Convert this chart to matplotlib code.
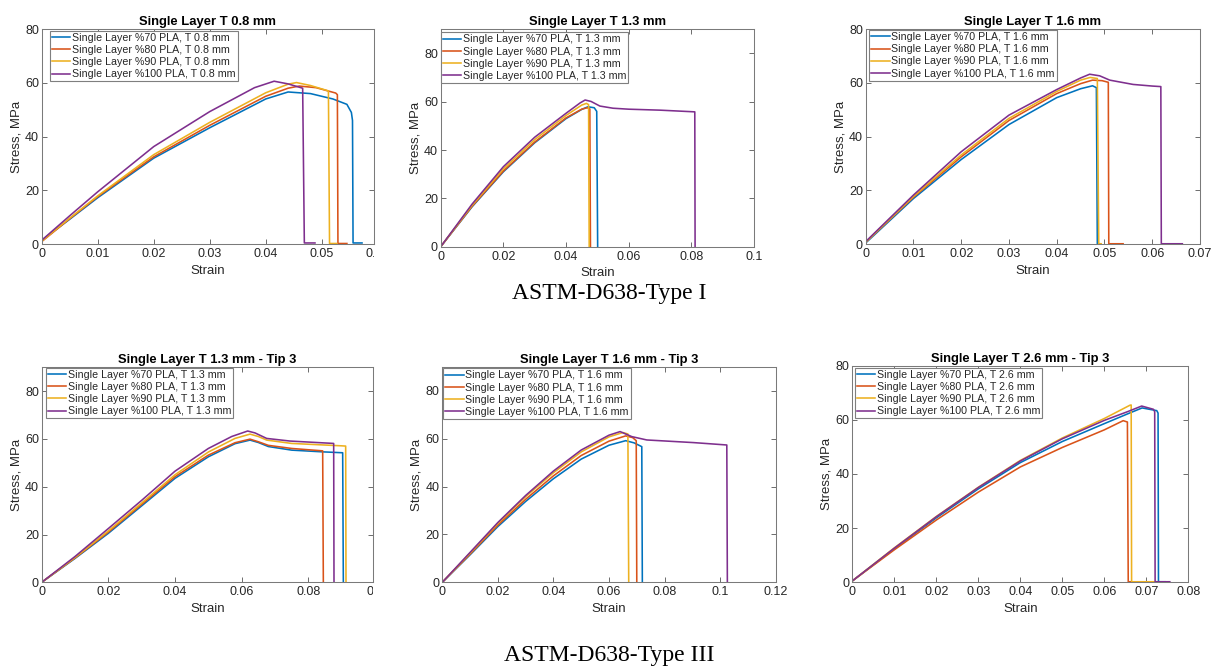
import matplotlib
matplotlib.use('Agg')
import matplotlib.pyplot as plt
from matplotlib.transforms import Bbox, blended_transform_factory, ScaledTranslation

W, H = 1218, 669
plt.rcParams['font.family'] = ['Liberation Sans', 'DejaVu Sans']

COLORS = ['#0072BD', '#D95319', '#EDB120', '#7E2F8E']
INFILL = ['70', '80', '90', '100']

# --- Type I, T 0.8 mm
T08_70_x = [0, 0.005, 0.01, 0.02, 0.03, 0.04, 0.044, 0.048, 0.052, 0.0545, 0.0553, 0.0555, 0.0556, 0.0572]
T08_70_y = [1.5, 9.3, 17.3, 32.0, 43.3, 54.0, 56.6, 56.0, 54.0, 52.0, 49.0, 46.0, 0.5, 0.5]
T08_80_x = [0, 0.005, 0.01, 0.02, 0.03, 0.04, 0.044, 0.046, 0.049, 0.0525, 0.0528, 0.0529, 0.0545]
T08_80_y = [1.0, 9.5, 17.7, 32.5, 44.2, 55.0, 58.0, 58.8, 58.2, 56.2, 55.6, 0.3, 0.3]
T08_90_x = [0, 0.005, 0.01, 0.02, 0.03, 0.04, 0.044, 0.0455, 0.048, 0.0512, 0.0514, 0.0527]
T08_90_y = [1.2, 9.7, 18.0, 33.3, 45.3, 56.3, 59.5, 60.1, 59.0, 57.0, 0.3, 0.3]
T08_100_x = [0, 0.005, 0.01, 0.02, 0.03, 0.038, 0.0415, 0.044, 0.0466, 0.0469, 0.0488]
T08_100_y = [1.5, 10.6, 19.5, 36.3, 49.3, 58.2, 60.6, 59.6, 58.0, 0.5, 0.5]

# --- Type I, T 1.3 mm
T13_70_x = [0, 0.01, 0.02, 0.03, 0.04, 0.045, 0.047, 0.049, 0.0498, 0.0501]
T13_70_y = [0, 16.5, 31.0, 43.0, 53.0, 56.8, 57.9, 57.5, 56.0, 0]
T13_80_x = [0, 0.01, 0.02, 0.03, 0.04, 0.045, 0.0468, 0.0476, 0.0478]
T13_80_y = [0, 16.7, 31.3, 43.3, 53.3, 56.9, 57.5, 57.0, 0]
T13_90_x = [0, 0.01, 0.02, 0.03, 0.04, 0.045, 0.0465, 0.0472, 0.0474]
T13_90_y = [0, 17.1, 32.2, 44.3, 54.3, 58.6, 59.3, 58.8, 0]
T13_100_x = [0, 0.01, 0.02, 0.03, 0.04, 0.0445, 0.0461, 0.048, 0.0508, 0.055, 0.06, 0.07, 0.0811, 0.0812]
T13_100_y = [0, 17.6, 33.1, 45.3, 55.2, 59.5, 60.7, 60.1, 58.2, 57.3, 56.9, 56.5, 55.8, 0]

# --- Type I, T 1.6 mm
T16_70_x = [0, 0.01, 0.02, 0.03, 0.04, 0.045, 0.0475, 0.0483, 0.0485, 0.049]
T16_70_y = [0.5, 17.0, 31.5, 44.5, 54.5, 57.8, 58.9, 58.2, 0.2, 0.2]
T16_80_x = [0, 0.01, 0.02, 0.03, 0.04, 0.045, 0.0475, 0.0495, 0.0508, 0.0509, 0.0539]
T16_80_y = [0.8, 17.5, 32.5, 46.0, 56.0, 59.7, 61.0, 60.8, 60.2, 0.2, 0.2]
T16_90_x = [0, 0.01, 0.02, 0.03, 0.04, 0.045, 0.047, 0.0485, 0.0488, 0.0493]
T16_90_y = [0.8, 17.8, 33.2, 46.8, 56.8, 61.0, 62.0, 61.6, 0.2, 0.2]
T16_100_x = [0, 0.01, 0.02, 0.03, 0.04, 0.045, 0.0469, 0.049, 0.0511, 0.056, 0.06, 0.0618, 0.0619, 0.0663]
T16_100_y = [1.0, 18.3, 34.4, 48.0, 57.5, 61.8, 63.2, 62.6, 61.0, 59.4, 58.8, 58.6, 0.2, 0.2]

# --- Type III, T 1.3 mm
T13T_70_x = [0, 0.01, 0.02, 0.03, 0.04, 0.05, 0.058, 0.0625, 0.065, 0.068, 0.075, 0.084, 0.0903, 0.0905]
T13T_70_y = [0, 10.0, 20.5, 32.0, 43.5, 52.5, 58.0, 59.5, 58.5, 56.8, 55.3, 54.6, 54.2, 0]
T13T_80_x = [0, 0.01, 0.02, 0.03, 0.04, 0.05, 0.058, 0.0625, 0.065, 0.068, 0.075, 0.0843, 0.0845]
T13T_80_y = [0, 10.2, 21.0, 32.6, 44.2, 53.2, 58.4, 59.9, 58.8, 57.3, 56.0, 55.0, 0]
T13T_90_x = [0, 0.01, 0.02, 0.03, 0.04, 0.05, 0.058, 0.0625, 0.065, 0.0675, 0.075, 0.09, 0.0912, 0.0913]
T13T_90_y = [0, 10.4, 21.5, 33.2, 45.0, 54.5, 60.2, 62.0, 61.0, 59.5, 58.1, 57.1, 57.0, 0]
T13T_100_x = [0, 0.01, 0.02, 0.03, 0.04, 0.05, 0.057, 0.0618, 0.064, 0.0675, 0.0745, 0.0876, 0.0877]
T13T_100_y = [0, 10.8, 22.5, 34.3, 46.5, 56.0, 61.0, 63.3, 62.5, 60.2, 59.1, 58.1, 0]

# --- Type III, T 1.6 mm
T16T_70_x = [0, 0.01, 0.02, 0.03, 0.04, 0.05, 0.06, 0.066, 0.069, 0.0718, 0.072]
T16T_70_y = [0, 11.5, 23.3, 33.8, 43.3, 51.5, 57.3, 59.2, 58.3, 56.7, 0]
T16T_80_x = [0, 0.01, 0.02, 0.03, 0.04, 0.05, 0.06, 0.066, 0.0685, 0.0698, 0.070]
T16T_80_y = [0, 11.8, 23.9, 34.7, 44.5, 53.0, 59.0, 61.2, 60.5, 59.2, 0]
T16T_90_x = [0, 0.01, 0.02, 0.03, 0.04, 0.05, 0.06, 0.065, 0.0668, 0.0671]
T16T_90_y = [0, 12.2, 24.6, 35.8, 45.8, 54.5, 60.8, 62.6, 62.0, 0]
T16T_100_x = [0, 0.01, 0.02, 0.03, 0.04, 0.05, 0.06, 0.064, 0.0682, 0.0736, 0.0904, 0.1024, 0.1026]
T16T_100_y = [0, 12.5, 25.0, 36.3, 46.5, 55.3, 61.5, 63.0, 60.9, 59.5, 58.4, 57.4, 0]

# --- Type III, T 2.6 mm
T26T_70_x = [0, 0.01, 0.02, 0.03, 0.04, 0.05, 0.06, 0.066, 0.069, 0.0725, 0.0728, 0.0729, 0.0745]
T26T_70_y = [0.5, 12.4, 23.8, 34.5, 44.2, 52.0, 58.6, 62.5, 64.4, 63.4, 62.5, 0.2, 0.2]
T26T_80_x = [0, 0.01, 0.02, 0.03, 0.04, 0.05, 0.06, 0.0645, 0.0655, 0.0657, 0.0662]
T26T_80_y = [0.5, 12.0, 23.0, 33.3, 42.6, 49.8, 56.3, 59.7, 59.2, 0.2, 0.2]
T26T_90_x = [0, 0.01, 0.02, 0.03, 0.04, 0.05, 0.06, 0.0661, 0.0664, 0.0665, 0.0725]
T26T_90_y = [0.5, 12.7, 24.3, 35.1, 45.0, 53.3, 60.5, 65.4, 65.5, 0.2, 0.2]
T26T_100_x = [0, 0.01, 0.02, 0.03, 0.04, 0.05, 0.06, 0.0655, 0.0689, 0.0717, 0.0720, 0.0721, 0.0756]
T26T_100_y = [0.5, 12.6, 24.2, 35.0, 44.8, 53.0, 59.8, 63.0, 65.1, 63.9, 63.0, 0.2, 0.2]

XT_07 = [0, 0.01, 0.02, 0.03, 0.04, 0.05, 0.06, 0.07]
XT_10 = [0, 0.02, 0.04, 0.06, 0.08, 0.1]
XT_12 = [0, 0.02, 0.04, 0.06, 0.08, 0.1, 0.12]
XT_08 = [0, 0.01, 0.02, 0.03, 0.04, 0.05, 0.06, 0.07, 0.08]
YT = [0, 20, 40, 60, 80]

TICK_PAD = 3.0
TICK_FS = 9
TXT = '#262626'

# title, thickness, curves, axes box (px), xlim, xticks, ylim, legend top-left (px), cut tick
panels = [
    ('Single Layer T 0.8 mm', '0.8',
     [(T08_70_x, T08_70_y), (T08_80_x, T08_80_y), (T08_90_x, T08_90_y), (T08_100_x, T08_100_y)],
     (41.7, 29, 373.5, 244.3), 0.05925, XT_07[:6], 80, (50, 30.7), (0.06, '0.06', 373.5)),
    ('Single Layer T 1.3 mm', '1.3',
     [(T13_70_x, T13_70_y), (T13_80_x, T13_80_y), (T13_90_x, T13_90_y), (T13_100_x, T13_100_y)],
     (440.7, 29.2, 754, 246.7), 0.1, XT_10, 90, (441, 32.3), None),
    ('Single Layer T 1.6 mm', '1.6',
     [(T16_70_x, T16_70_y), (T16_80_x, T16_80_y), (T16_90_x, T16_90_y), (T16_100_x, T16_100_y)],
     (865.7, 29, 1200, 244.3), 0.07, XT_07, 80, (869.3, 30), None),
    ('Single Layer T 1.3 mm - Tip 3', '1.3',
     [(T13T_70_x, T13T_70_y), (T13T_80_x, T13T_80_y), (T13T_90_x, T13T_90_y), (T13T_100_x, T13T_100_y)],
     (41.7, 367.2, 373, 582.3), 0.0994, XT_10[:5], 90, (46, 367.7), (0.1, '0.1', 373)),
    ('Single Layer T 1.6 mm - Tip 3', '1.6',
     [(T16T_70_x, T16T_70_y), (T16T_80_x, T16T_80_y), (T16T_90_x, T16T_90_y), (T16T_100_x, T16T_100_y)],
     (442.3, 367, 775.7, 582.3), 0.12, XT_12, 90, (443.3, 368.3), None),
    ('Single Layer T 2.6 mm - Tip 3', '2.6',
     [(T26T_70_x, T26T_70_y), (T26T_80_x, T26T_80_y), (T26T_90_x, T26T_90_y), (T26T_100_x, T26T_100_y)],
     (852.3, 365.7, 1188.3, 582.3), 0.08, XT_08, 80, (855, 367.7), None),
]

fig = plt.figure(figsize=(W / 100, H / 100), dpi=100)

for title, thick, curves, box, xmax, xticks, ymax, leg_xy, cut in panels:
    x0, y0, x1, y1 = box
    ax = fig.add_axes([x0 / W, 1 - y1 / H, (x1 - x0) / W, (y1 - y0) / H])
    for (sx, sy), c, p in zip(curves, COLORS, INFILL):
        ax.plot(sx, sy, color=c, lw=1.15, label=f'Single Layer %{p} PLA, T {thick} mm')
    ax.set_xlim(0, xmax)
    ax.set_ylim(0, ymax)
    ax.set_xticks(xticks)
    ax.set_xticklabels([f'{v:g}' for v in xticks])
    ax.set_yticks(YT)
    ax.set_yticklabels([f'{v:g}' for v in YT])
    ax.tick_params(direction='in', length=3.5, width=0.6, top=True, right=True,
                   labelsize=TICK_FS, colors=TXT, color='#555555')
    ax.tick_params(axis='x', pad=TICK_PAD)
    ax.tick_params(axis='y', pad=2)
    for s in ax.spines.values():
        s.set_color('#7a7a7a')
        s.set_linewidth(0.75)
    ax.set_title(title, fontsize=9.4, fontweight='bold', color='black', pad=3)
    ax.set_xlabel('Strain', fontsize=9.5, color=TXT, labelpad=3)
    ax.set_ylabel('Stress, MPa', fontsize=9.5, color=TXT, labelpad=2)
    leg = ax.legend(loc='upper left', bbox_to_anchor=(leg_xy[0] / W, 1 - leg_xy[1] / H),
                    bbox_transform=fig.transFigure, borderaxespad=0, fontsize=7.7,
                    fancybox=False, framealpha=1, edgecolor='#7f7f7f', borderpad=0.2,
                    handlelength=1.7, handletextpad=0.15, labelspacing=0.2)
    leg.get_frame().set_linewidth(0.8)
    for t in leg.get_texts():
        t.set_color(TXT)
    if cut is not None:
        # tick label cut off by the panel crop
        cx, ctext, cpx = cut
        tr = blended_transform_factory(ax.transData, ax.transAxes) + \
            ScaledTranslation(0, -TICK_PAD / 72, fig.dpi_scale_trans)
        t = fig.text(cx, 0, ctext, transform=tr, ha='center', va='top', fontsize=TICK_FS, color=TXT)
        t.set_clip_on(True)
        t.set_clip_box(Bbox.from_extents(0, 0, cpx, H))

fig.text(609 / W, 1 - 293 / H, 'ASTM-D638-Type I', ha='center', va='center',
         fontsize=17, family=['Liberation Serif', 'DejaVu Serif'])
fig.text(609 / W, 1 - 655 / H, 'ASTM-D638-Type III', ha='center', va='center',
         fontsize=17, family=['Liberation Serif', 'DejaVu Serif'])

fig.savefig('out.png', dpi=100, facecolor='white')
